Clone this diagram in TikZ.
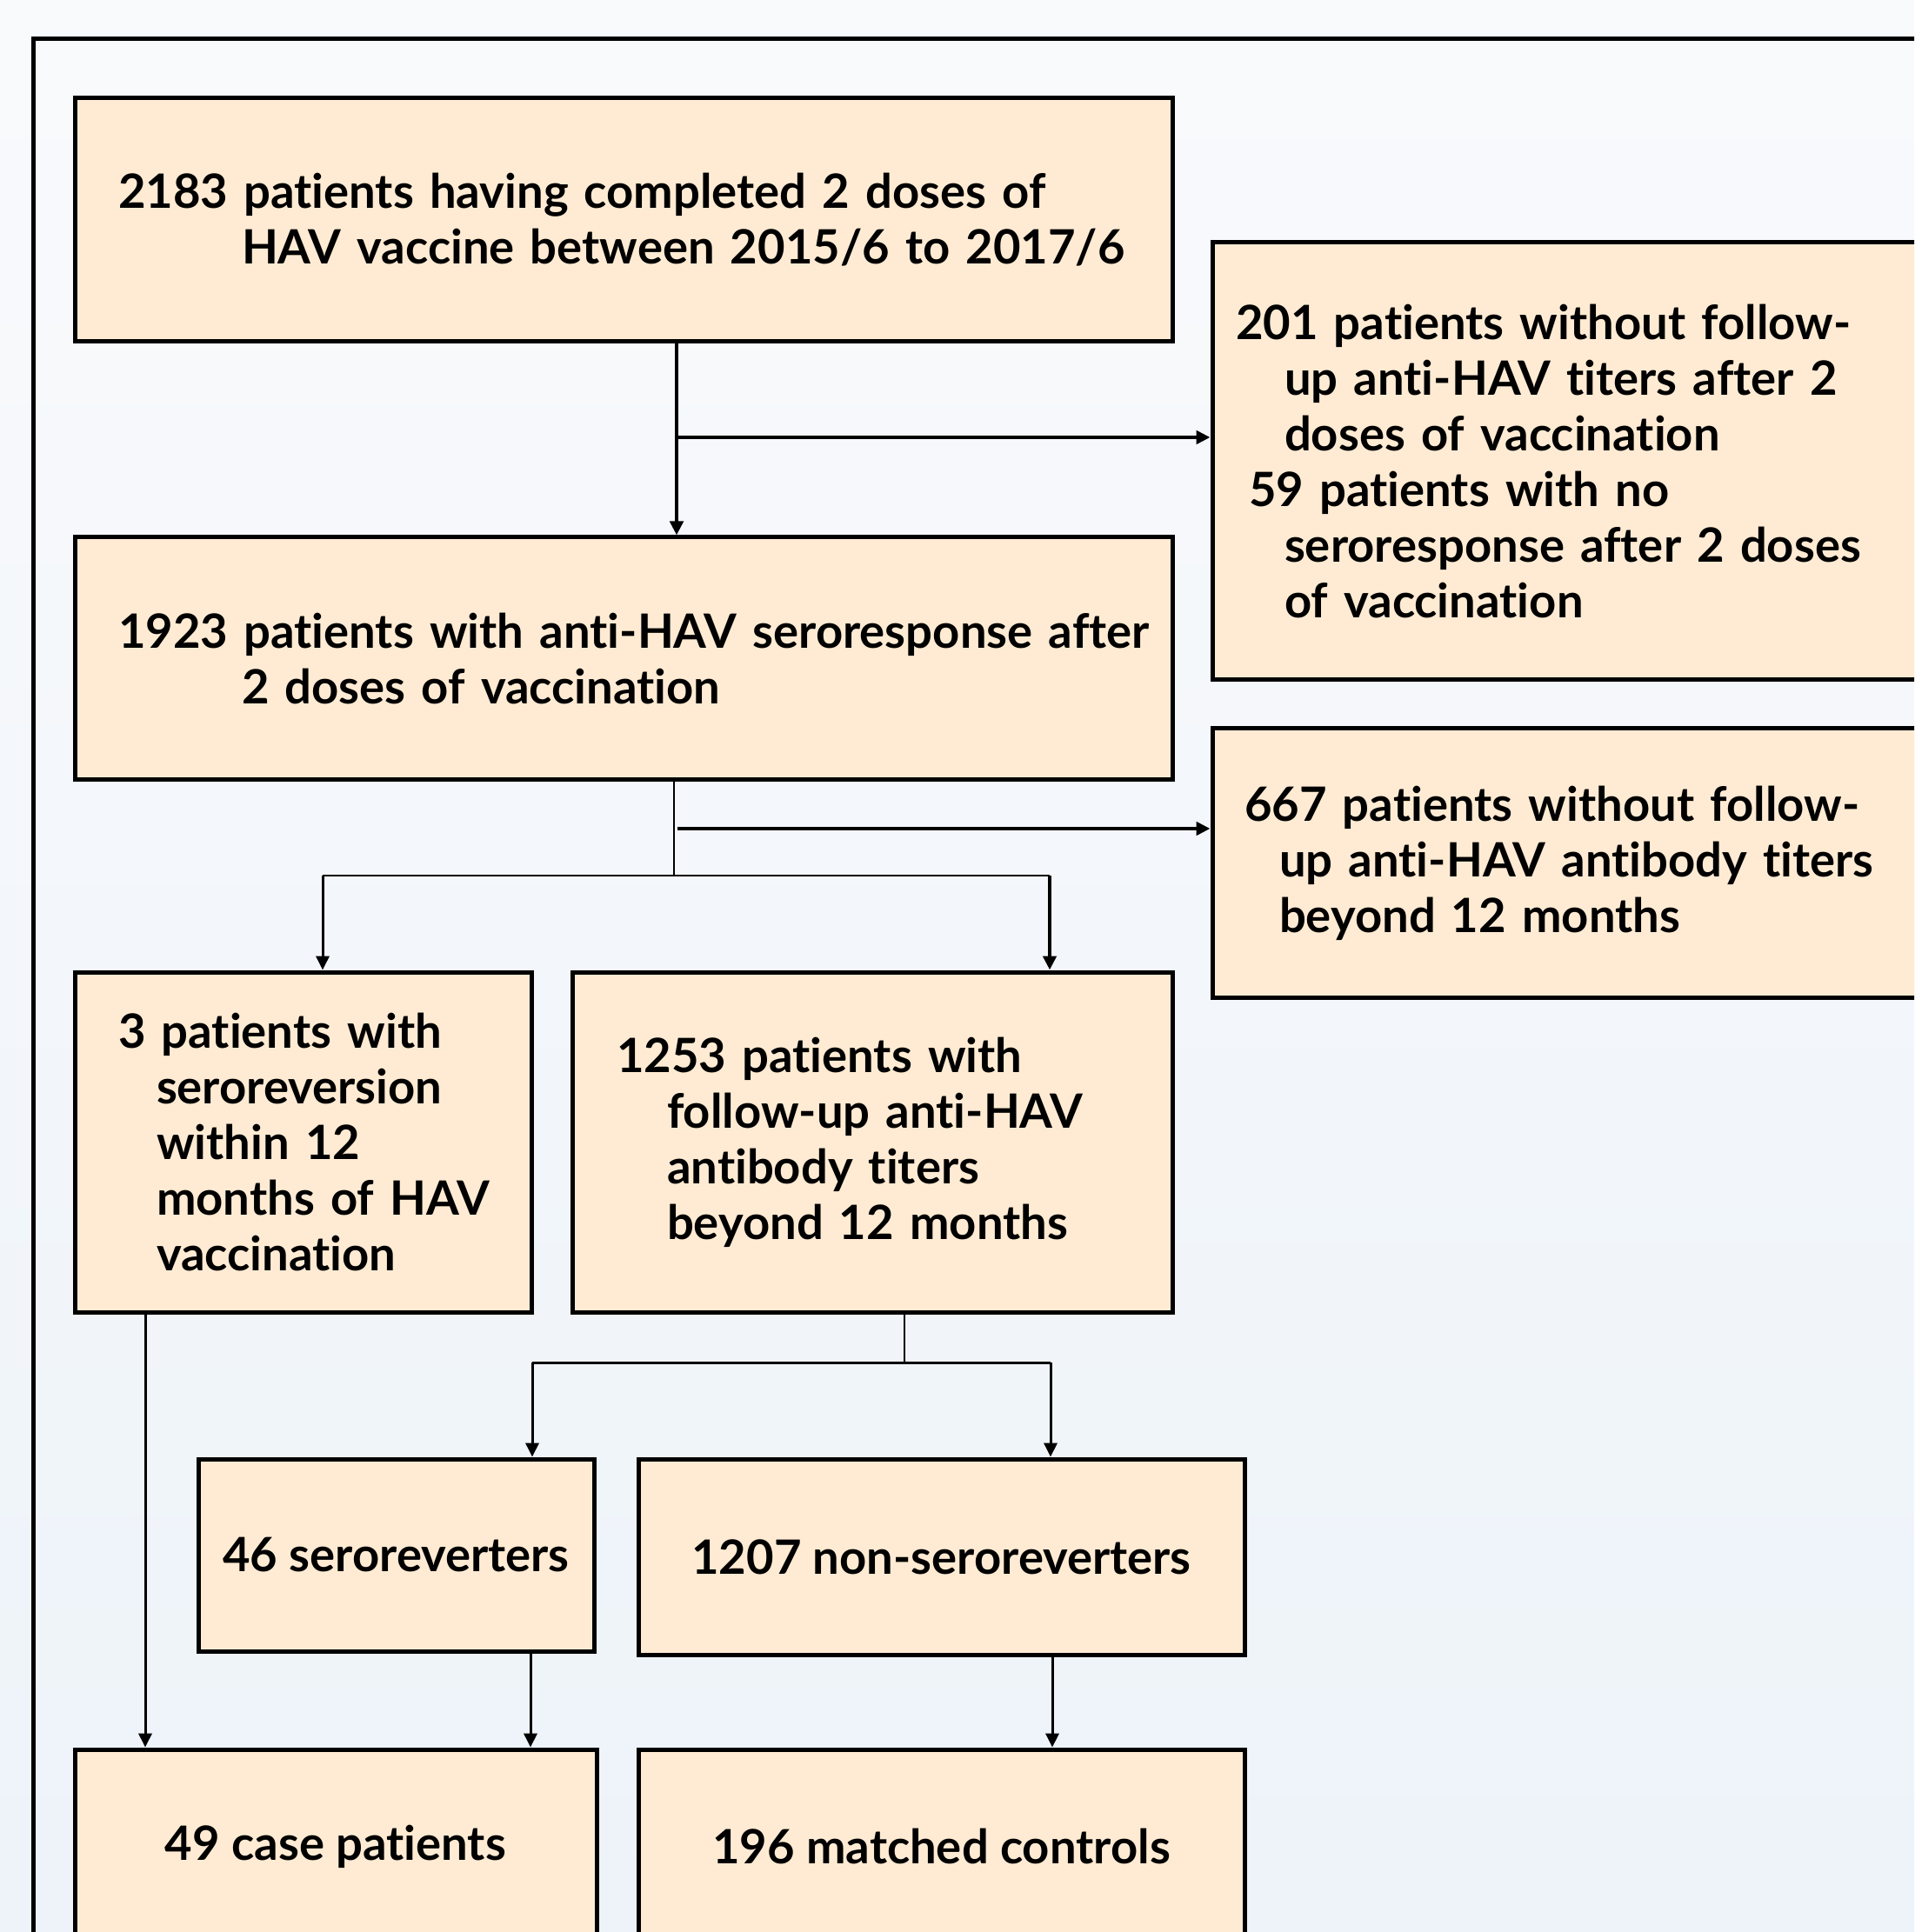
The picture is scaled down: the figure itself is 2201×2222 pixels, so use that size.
\documentclass[tikz,border=0pt]{standalone}
\usepackage{fontspec}
\setmainfont{Lato}[Ligatures={NoCommon}]
\usetikzlibrary{arrows.meta,calc}
\definecolor{boxfill}{HTML}{FFEBD3}
\definecolor{bgtop}{HTML}{F9FAFC}
\definecolor{bgbot}{HTML}{EDF3F9}
\newcommand\lineat[1]{\hspace*{#1}}
\begin{document}
\begin{tikzpicture}[x=0.25pt,y=-0.25pt,
  boxbase/.style={draw=black, line width=1.25pt, fill=boxfill,
    font=\fontsize{13.6}{16}\selectfont\bfseries, inner ysep=0pt},
  tbox/.style={boxbase, align=left, inner xsep=0pt},
  cbox/.style={boxbase, align=center},
  tip/.style={-{Triangle[length=4pt,width=3.8pt]}},
  thickc/.style={line width=1pt},
  medc/.style={line width=0.75pt},
  thinc/.style={line width=0.5pt}]
\useasboundingbox (0,0) rectangle (2201,2222);
\clip (0,0) rectangle (2201,2222);
\shade[top color=bgtop, bottom color=bgbot] (0,0) rectangle (2201,2222);
\draw[line width=1.25pt] (38,2300) -- (38,45) -- (2300,45);

% boxes
\node[tbox, text width=315.5pt, minimum height=70pt] (b1) at (717,253)
  {\lineat{12.5pt}2183 patients having completed 2 doses of\\
   \lineat{48pt}HAV vaccine between 2015/6 to 2017/6};
\node[tbox, text width=315.5pt, minimum height=69.75pt] (b2) at (717,757.5)
  {\lineat{12.5pt}1923 patients with anti-HAV seroresponse after\\
   \lineat{48pt}2 doses of vaccination};
\node[tbox, text width=211.5pt, minimum height=125.75pt] (r1) at (1817,530.5)
  {\lineat{6.75pt}201 patients without follow-\\
   \lineat{20.75pt}up anti-HAV titers after 2\\
   \lineat{20.75pt}doses of vaccination\\
   \lineat{10.5pt}59 patients with no\\
   \lineat{20.75pt}seroresponse after 2 doses\\
   \lineat{20.75pt}of vaccination};
\node[tbox, text width=211.5pt, minimum height=77.25pt] (r2) at (1817,992.5)
  {\lineat{9.25pt}667 patients without follow-\\
   \lineat{19.25pt}up anti-HAV antibody titers\\
   \lineat{19.25pt}beyond 12 months};
\node[tbox, text width=131.25pt, minimum height=97.75pt] (b3) at (348.5,1313.5)
  {\lineat{12.5pt}3 patients with\\
   \lineat{23.5pt}seroreversion\\
   \lineat{23.5pt}within 12\\
   \lineat{23.5pt}months of HAV\\
   \lineat{23.5pt}vaccination};
\node[tbox, text width=172.5pt, minimum height=97.75pt] (b4) at (1003,1313.5)
  {\lineat{12.75pt}1253 patients with\\
   \lineat{27.25pt}follow-up anti-HAV\\
   \lineat{27.25pt}antibody titers\\
   \lineat{27.25pt}beyond 12 months};
\node[cbox, minimum width=113.75pt, minimum height=55.25pt] (b5) at (455.5,1788.5) {46 seroreverters};
\node[cbox, minimum width=174.25pt, minimum height=56.25pt] (b6) at (1082.5,1790.5) {1207 non-seroreverters};
\node[cbox, minimum width=150pt, minimum height=55.75pt] (b7) at (386,2123.5) {49 case patients};
\node[cbox, minimum width=174.25pt, minimum height=55.75pt] (b8) at (1082.5,2123.5) {196 matched controls};

% connectors
\coordinate (j1) at (778,503);
\draw[thickc, tip] (j1 |- b1.south) -- (j1 |- b2.north);
\draw[thickc, tip] (j1) -- (j1 -| r1.west);

\coordinate (j2) at (775,1007);
\coordinate (j2l) at (371,1007);
\coordinate (j2r) at (1207,1007);
\coordinate (j3) at (779,953);
\draw[thinc] (j2 |- b2.south) -- (j2);
\draw[thinc] (j2l) -- (j2r);
\draw[thickc, tip] (j3) -- (j3 -| r2.west);
\draw[medc, tip] (j2l) -- (j2l |- b3.north);
\draw[thickc, tip] (j2r) -- (j2r |- b4.north);

\coordinate (j4) at (1040,1567);
\coordinate (j4l) at (612,1567);
\coordinate (j4r) at (1208,1567);
\draw[thinc] (j4 |- b4.south) -- (j4);
\draw[medc] (j4l) -- (j4r);
\draw[medc, tip] (j4l) -- (j4l |- b5.north);
\draw[medc, tip] (j4r) -- (j4r |- b6.north);

\coordinate (k1) at (167,1600);
\coordinate (k2) at (610,1950);
\coordinate (k3) at (1210,1950);
\draw[medc, tip] (k1 |- b3.south) -- (k1 |- b7.north);
\draw[medc, tip] (k2 |- b5.south) -- (k2 |- b7.north);
\draw[medc, tip] (k3 |- b6.south) -- (k3 |- b8.north);
\end{tikzpicture}
\end{document}
